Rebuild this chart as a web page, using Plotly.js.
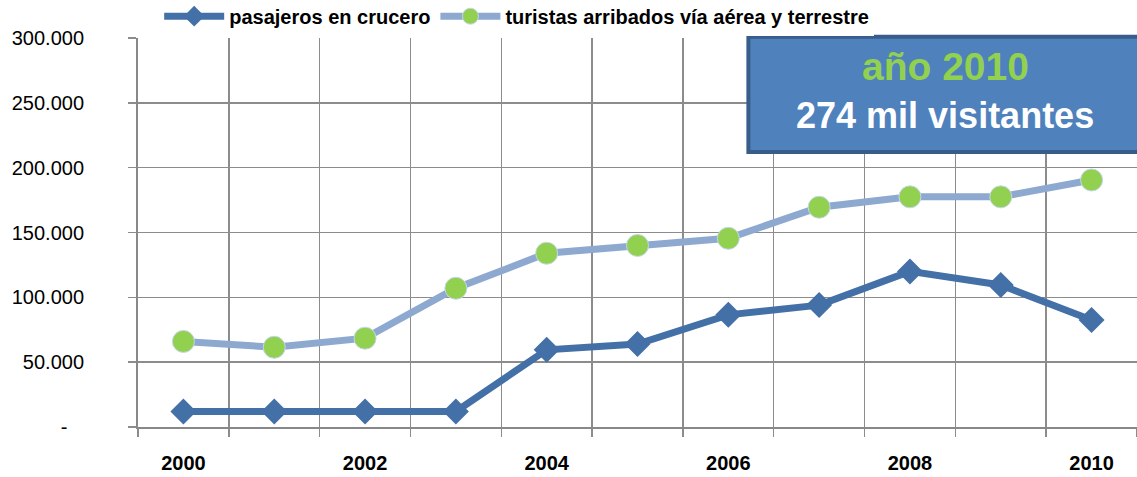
<!DOCTYPE html>
<html>
<head>
<meta charset="utf-8">
<script src="https://cdn.plot.ly/plotly-3.0.1.min.js"></script>
<style>
  html, body { margin: 0; padding: 0; background: #ffffff; }
  #chart { width: 1137px; height: 477px; }
</style>
</head>
<body>
<div id="chart"></div>
<script>
// Years and series (visitors per year)
const years = [2000, 2001, 2002, 2003, 2004, 2005, 2006, 2007, 2008, 2009, 2010];
const cruceros = [12000, 12000, 12000, 12000, 59500, 64000, 86500, 94000, 120000, 109500, 82500];
const turistas = [66000, 61500, 68500, 107000, 134000, 140000, 145500, 169500, 177500, 177500, 190500];

const yTickVals = [0, 50000, 100000, 150000, 200000, 250000, 300000];
const yTickText = ['-\u00a0\u00a0\u00a0', '50.000', '100.000', '150.000', '200.000', '250.000', '300.000'];
const xTickVals = [2000, 2002, 2004, 2006, 2008, 2010];

const cruceroTrace = {
    x: years,
    y: cruceros,
    name: 'pasajeros en crucero',
    type: 'scatter',
    mode: 'lines+markers',
    line: { color: '#4470a8', width: 7 },
    marker: { symbol: 'diamond', size: 20, color: '#4470a8' },
    cliponaxis: false
};

const turistaTrace = {
    x: years,
    y: turistas,
    name: 'turistas arribados vía aérea y terrestre',
    type: 'scatter',
    mode: 'lines+markers',
    line: { color: '#8ea9d0', width: 7 },
    marker: { symbol: 'circle', size: 22, color: '#92d050', line: { color: '#c6d6ec', width: 1 } },
    cliponaxis: false
};

const layout = {
    width: 1137,
    height: 477,
    paper_bgcolor: '#ffffff',
    plot_bgcolor: '#ffffff',
    font: { family: 'Liberation Sans, Arial, sans-serif', color: '#000000' },
    margin: { l: 138, r: 0, t: 38, b: 50 },
    showlegend: true,
    legend: {
        orientation: 'h',
        xref: 'container',
        yref: 'container',
        x: 0.14,
        y: 0.966,
        yanchor: 'middle',
        xanchor: 'left',
        font: { size: 20, family: 'Liberation Sans, Arial, sans-serif', weight: 'bold' },
        itemwidth: 60,
        tracegroupgap: 0
    },
    xaxis: {
        range: [1999.5, 2010.5],
        tickvals: xTickVals,
        ticktext: xTickVals.map(String),
        ticks: '',
        showgrid: false,
        zeroline: false,
        showline: true,
        linecolor: '#888888',
        linewidth: 2,
        ticklabelstandoff: 17,
        tickfont: { size: 20, weight: 'bold' },
        minor: {
            tick0: 1999.5,
            dtick: 1,
            showgrid: true,
            gridcolor: '#8c8c8c',
            gridwidth: 1.5,
            ticks: 'outside',
            ticklen: 8,
            tickcolor: '#8c8c8c',
            tickwidth: 1.5
        }
    },
    yaxis: {
        range: [0, 300000],
        tickvals: yTickVals,
        ticktext: yTickText,
        ticks: 'outside',
        ticklen: 8,
        tickcolor: '#8c8c8c',
        tickwidth: 1.5,
        showgrid: true,
        gridcolor: '#8c8c8c',
        gridwidth: 1.5,
        zeroline: false,
        showline: true,
        linecolor: '#888888',
        linewidth: 2,
        ticklabelstandoff: 40,
        tickfont: { size: 20 }
    },
    shapes: [{
        type: 'rect',
        xref: 'paper',
        yref: 'paper',
        x0: 0.611,
        x1: 1.01,
        y0: 0.707,
        y1: 1.003,
        fillcolor: '#4f81bd',
        line: { color: '#385d8a', width: 4 },
        layer: 'above'
    }],
    annotations: [
        {
            xref: 'paper', yref: 'paper',
            x: 0.808, y: 0.926,
            xanchor: 'center', yanchor: 'middle',
            text: '<b>año 2010</b>',
            showarrow: false,
            font: { size: 39, color: '#92d050' }
        },
        {
            xref: 'paper', yref: 'paper',
            x: 0.808, y: 0.802,
            xanchor: 'center', yanchor: 'middle',
            text: '<b>274 mil visitantes</b>',
            showarrow: false,
            font: { size: 36, color: '#ffffff' }
        }
    ]
};

Plotly.newPlot('chart', [cruceroTrace, turistaTrace], layout, { displayModeBar: false, staticPlot: true });
</script>
</body>
</html>
